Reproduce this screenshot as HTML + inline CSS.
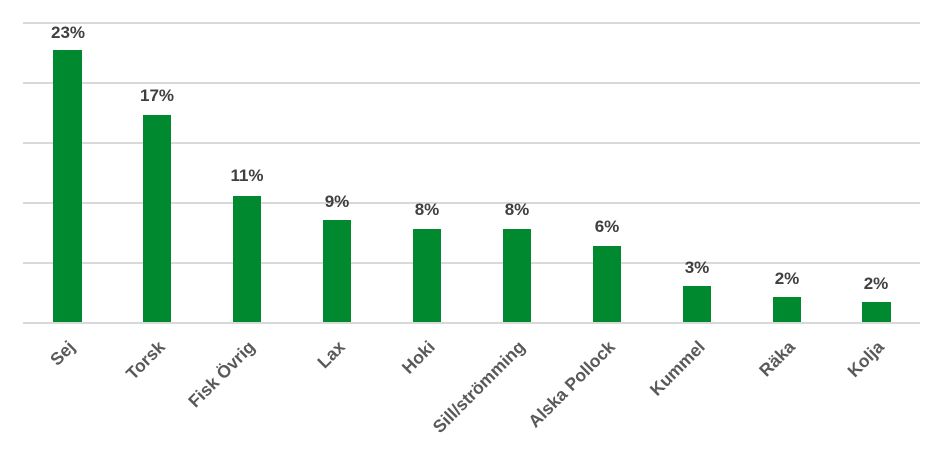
<!DOCTYPE html><html><head><style>body{margin:0;background:#fff}</style></head><body>
<svg width="944" height="449" xmlns="http://www.w3.org/2000/svg" font-family="Liberation Sans, sans-serif">
<g stroke="#d9d9d9" stroke-width="2">
<line x1="23" x2="920" y1="23" y2="23"/><line x1="23" x2="920" y1="83" y2="83"/><line x1="23" x2="920" y1="143" y2="143"/><line x1="23" x2="920" y1="203" y2="203"/><line x1="23" x2="920" y1="263" y2="263"/><line x1="23" x2="920" y1="323" y2="323"/>
</g>
<g fill="#00892f">
<rect x="53" y="50" width="29" height="272"/><rect x="143" y="115" width="28" height="207"/><rect x="233" y="196" width="28" height="126"/><rect x="323" y="220" width="28" height="102"/><rect x="413" y="229" width="28" height="93"/><rect x="503" y="229" width="28" height="93"/><rect x="593" y="246" width="28" height="76"/><rect x="683" y="286" width="28" height="36"/><rect x="773" y="297" width="28" height="25"/><rect x="862" y="302" width="29" height="20"/>
</g>
<g fill="#404040" font-size="17" font-weight="bold" text-anchor="middle">
<text x="68" y="38">23%</text><text x="157" y="101">17%</text><text x="247" y="181">11%</text><text x="337" y="207">9%</text><text x="427" y="215">8%</text><text x="517" y="215">8%</text><text x="607" y="232">6%</text><text x="697" y="273">3%</text><text x="787" y="284">2%</text><text x="876" y="289">2%</text>
</g>
<g fill="#595959" font-size="17.5" font-weight="bold" text-anchor="end">
<text transform="translate(76,348) rotate(-45)">Sej</text>
<text transform="translate(166,348) rotate(-45)">Torsk</text>
<text transform="translate(256,348) rotate(-45)">Fisk Övrig</text>
<text transform="translate(346,348) rotate(-45)">Lax</text>
<text transform="translate(436,348) rotate(-45)">Hoki</text>
<text transform="translate(526,348) rotate(-45)">Sill/strömming</text>
<text transform="translate(616,348) rotate(-45)">Alska Pollock</text>
<text transform="translate(706,348) rotate(-45)">Kummel</text>
<text transform="translate(796,348) rotate(-45)">Räka</text>
<text transform="translate(885,348) rotate(-45)">Kolja</text>
</g>
</svg></body></html>
